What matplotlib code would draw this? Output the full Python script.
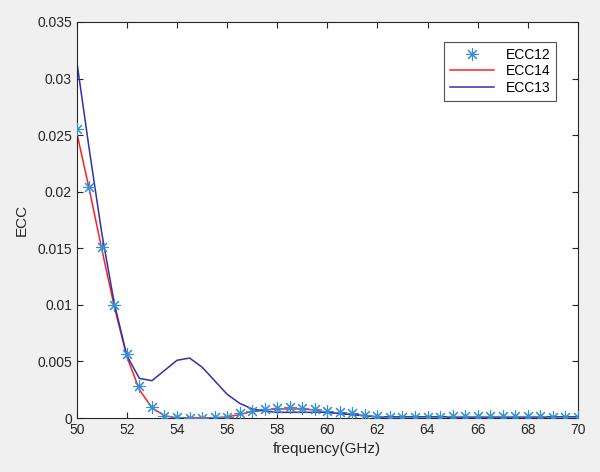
import matplotlib
matplotlib.use("Agg")
import matplotlib.pyplot as plt
import numpy as np

freq = [50 + 0.5 * i for i in range(41)]
ecc12 = [0.0255, 0.0204, 0.0151, 0.0100, 0.0057, 0.0028, 0.0010, 0.0002, 0.00005, 0.00003,
         0.00003, 0.00005, 0.0001, 0.0004, 0.0006, 0.0008, 0.0009, 0.0010, 0.0009, 0.0008,
         0.0006, 0.0005, 0.0004, 0.0003, 0.0002, 0.0001, 0.0001, 0.0001, 0.0001, 0.0001,
         0.00015, 0.00015, 0.00015, 0.00015, 0.00015, 0.00015, 0.00015, 0.00015, 0.0001, 0.0001, 0.0001]
ecc14 = [0.0252, 0.0202, 0.0149, 0.0098, 0.0054, 0.0025, 0.0009, 0.0002, 0.00002, 0.00001,
         0.00001, 0.00002, 0.0001, 0.0003, 0.0006, 0.0007, 0.0008, 0.0008, 0.0008, 0.0007,
         0.0005, 0.0004, 0.0003, 0.0002, 0.0001, 0.0001, 0.00008, 0.00008, 0.00008, 0.00008,
         0.0001, 0.0001, 0.0001, 0.0001, 0.0001, 0.0001, 0.0001, 0.0001, 0.00008, 0.00008, 0.00008]
ecc13 = [0.0315, 0.0237, 0.0163, 0.0101, 0.0055, 0.0035, 0.0033, 0.0042, 0.0051, 0.0053,
         0.0045, 0.0033, 0.0021, 0.0013, 0.0008, 0.0006, 0.0005, 0.0005, 0.0005, 0.0005,
         0.0005, 0.0004, 0.0003, 0.0002, 0.0001, 0.0001, 0.0001, 0.0001, 0.0001, 0.0001,
         0.0001, 0.0001, 0.0001, 0.0001, 0.0001, 0.0001, 0.0001, 0.0001, 0.0001, 0.0001, 0.0001]

xticks = [50, 52, 54, 56, 58, 60, 62, 64, 66, 68, 70]
yticks = [0, 0.005, 0.01, 0.015, 0.02, 0.025, 0.03, 0.035]
yticklabels = ["0", "0.005", "0.01", "0.015", "0.02", "0.025", "0.03", "0.035"]

plt.rcParams['font.family'] = ['Liberation Sans', 'DejaVu Sans']

fig = plt.figure(figsize=(6, 4.72), dpi=100, facecolor='#f0f0f0')
ax = fig.add_axes([0.128, 0.1144, 0.835, 0.839])
ax.set_facecolor('white')

ax.plot(freq, ecc12, linestyle='none', marker=(8, 2, 0), markersize=9, color='#3590d8',
        markeredgewidth=0.8, label='ECC12', zorder=3)
ax.plot(freq, ecc14, color='#ff2020', linewidth=1.1, label='ECC14', zorder=2)
ax.plot(freq, ecc13, color='#3030b0', linewidth=1.1, label='ECC13', zorder=2)

ax.set_xlim(50, 70)
ax.set_ylim(0, 0.035)
ax.set_xticks(xticks)
ax.set_xticklabels([str(t) for t in xticks])
ax.set_yticks(yticks)
ax.set_yticklabels(yticklabels)
ax.tick_params(direction='in', top=True, right=True, length=4, labelsize=10,
               colors='#262626', labelcolor='#262626')
for s in ax.spines.values():
    s.set_color('#262626')
    s.set_linewidth(0.8)

ax.set_xlabel('frequency(GHz)', fontsize=11, color='#262626')
ax.set_ylabel('ECC', fontsize=11, color='#262626', labelpad=6)

leg = ax.legend(loc='upper right', bbox_to_anchor=(0.97, 0.967), fontsize=10,
                frameon=True, fancybox=False, edgecolor='#262626', handlelength=3.2,
                borderpad=0.4, labelspacing=0.2)
leg.get_frame().set_linewidth(0.8)

fig.savefig('out.png', dpi=100, facecolor=fig.get_facecolor())
